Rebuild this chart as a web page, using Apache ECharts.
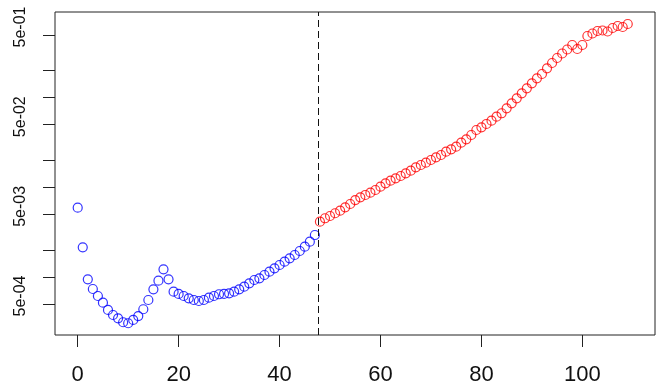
<!DOCTYPE html>
<html>
<head>
<meta charset="utf-8">
<script src="https://cdn.jsdelivr.net/npm/echarts@6/dist/echarts.min.js"></script>
<style>html,body{margin:0;padding:0;background:#fff;}#c{width:663px;height:390px;}</style>
</head>
<body>
<div id="c"></div>
<script>
// ---- data ----
const blueX = [0,1,2,3,4,5,6,7,8,9,10,11,12,13,14,15,16,17,18,19,20,21,22,23,24,25,26,27,28,29,30,31,32,33,34,35,36,37,38,39,40,41,42,43,44,45,46,47];
const blueY = [5.93e-3,2.145e-3,9.43e-4,7.35e-4,6.14e-4,5.17e-4,4.29e-4,3.77e-4,3.46e-4,3.13e-4,3.05e-4,3.32e-4,3.67e-4,4.37e-4,5.54e-4,7.29e-4,9.10e-4,1.219e-3,9.43e-4,6.86e-4,6.47e-4,6.14e-4,5.79e-4,5.54e-4,5.40e-4,5.54e-4,5.88e-4,6.14e-4,6.42e-4,6.47e-4,6.58e-4,6.86e-4,7.29e-4,7.80e-4,8.51e-4,9.26e-4,9.67e-4,1.053e-3,1.146e-3,1.251e-3,1.361e-3,1.482e-3,1.617e-3,1.760e-3,1.950e-3,2.178e-3,2.477e-3,2.94e-3];
const redX = [48,49,50,51,52,53,54,55,56,57,58,59,60,61,62,63,64,65,66,67,68,69,70,71,72,73,74,75,76,77,78,79,80,81,82,83,84,85,86,87,88,89,90,91,92,93,94,95,96,97,98,99,100,101,102,103,104,105,106,107,108,109];
const redY = [4.14e-3,4.52e-3,4.79e-3,5.14e-3,5.49e-3,5.99e-3,6.52e-3,7.22e-3,7.74e-3,8.22e-3,8.71e-3,9.34e-3,1.017e-2,1.109e-2,1.186e-2,1.261e-2,1.338e-2,1.434e-2,1.533e-2,1.673e-2,1.775e-2,1.883e-2,2.018e-2,2.163e-2,2.294e-2,2.497e-2,2.655e-2,2.839e-2,3.147e-2,3.434e-2,3.835e-2,4.361e-2,4.674e-2,5.09e-2,5.54e-2,6.14e-2,6.70e-2,7.61e-2,8.66e-2,9.84e-2,0.1119,0.1272,0.1446,0.1644,0.1837,0.2126,0.2436,0.2770,0.3110,0.3447,0.3868,0.3491,0.3868,0.4873,0.5197,0.554,0.5613,0.547,0.5985,0.630,0.614,0.663];
const cutoffX = 47.6;
const xTicks = [0,20,40,60,80,100];
const yTicks = [5e-1,2e-1,1e-1,5e-2,2e-2,1e-2,5e-3,2e-3,1e-3,5e-4];
const yLabels = [5e-1,5e-2,5e-3,5e-4];
const yMin = 2.256e-4, yMax = 0.9026;
const labelShift = 0.089; // labels sit slightly above their ticks (in decades)

function pair(xs, ys){ return xs.map((x,i)=>[x, ys[i]]); }
function fmtExp(v){
  const s = Math.pow(10, v - labelShift).toExponential(0); // e.g. 5e-1
  const m = s.match(/^(\d)e([+-])(\d+)$/);
  if (!m) return s;
  return m[1] + 'e' + m[2] + (m[3].length < 2 ? '0' + m[3] : m[3]);
}

const chart = echarts.init(document.getElementById('c'), null, {renderer:'canvas'});
const axisColor = '#222';
chart.setOption({
  animation: false,
  backgroundColor: '#fff',
  grid: {left:55, right:8, top:12, bottom:55, show:true, borderColor:axisColor, borderWidth:1, backgroundColor:'transparent'},
  xAxis: {
    type:'value', min:-4.5, max:114.4,
    axisLine:{show:false},
    splitLine:{show:false},
    axisTick:{show:true, length:12, inside:false, lineStyle:{color:axisColor, width:1}, customValues:xTicks},
    axisLabel:{show:true, customValues:xTicks, fontSize:22, fontFamily:'Liberation Sans, Arial, sans-serif', color:'#111', margin:29}
  },
  yAxis: [
    {type:'log', logBase:10, min:yMin, max:yMax, show:false},
    {type:'value', position:'left', min:Math.log10(yMin), max:Math.log10(yMax),
     axisLine:{show:false}, splitLine:{show:false},
     axisTick:{show:true, length:12, lineStyle:{color:axisColor, width:1}, customValues:yTicks.map(v=>Math.log10(v))},
     axisLabel:{show:true, rotate:90, customValues:yLabels.map(v=>Math.log10(v)+labelShift), formatter:fmtExp,
       fontSize:16, fontFamily:'Liberation Sans, Arial, sans-serif', color:'#111', margin:26}
    }
  ],
  series: [
    {type:'scatter', yAxisIndex:0, data:pair(blueX, blueY), symbol:'circle', symbolSize:9,
     itemStyle:{color:'rgba(0,0,0,0)', borderColor:'#0000ff', borderWidth:1.2},
     markLine:{silent:true, symbol:['none','none'], label:{show:false},
       lineStyle:{color:'#111', type:[7,4], width:1}, data:[{xAxis:cutoffX}]}},
    {type:'scatter', yAxisIndex:0, data:pair(redX, redY), symbol:'circle', symbolSize:9,
     itemStyle:{color:'rgba(0,0,0,0)', borderColor:'#ff0000', borderWidth:1.2}}
  ]
});
</script>
</body>
</html>
